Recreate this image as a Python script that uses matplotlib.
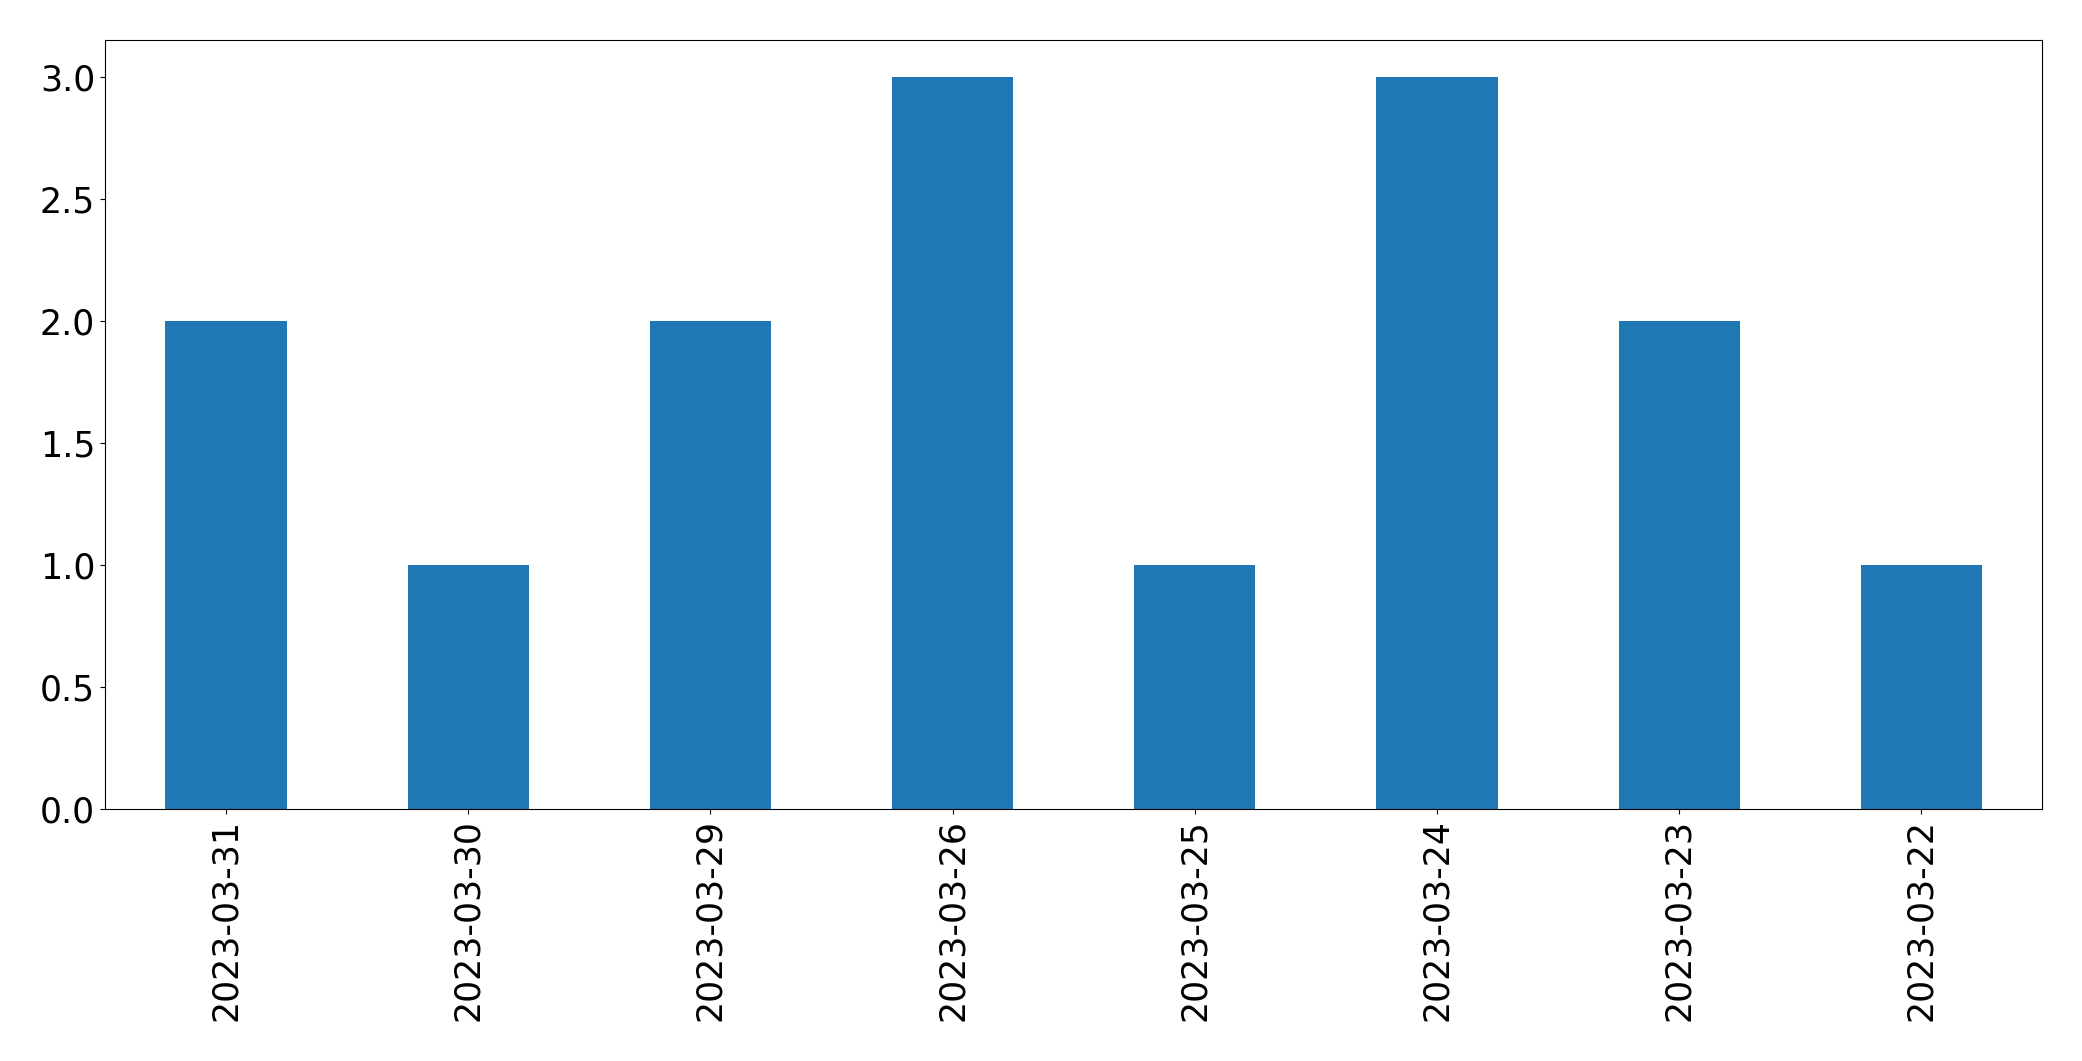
import matplotlib
matplotlib.use("Agg")
import matplotlib.pyplot as plt
import pandas as pd

# --- data ---
dates = ["2023-03-31", "2023-03-30", "2023-03-29", "2023-03-26",
         "2023-03-25", "2023-03-24", "2023-03-23", "2023-03-22"]
counts = [2, 1, 2, 3, 1, 3, 2, 1]

series = pd.Series(counts, index=dates)

fig = plt.figure(figsize=(20.82, 10.61), dpi=100)
ax = fig.add_axes([0.0504, 0.2375, 0.9306, 0.7245])
series.plot(kind="bar", ax=ax, color="#1f77b4")
ax.tick_params(axis="both", labelsize=25)
ax.set_ylim(0, 3.15)

fig.savefig("out.png", dpi=100)
